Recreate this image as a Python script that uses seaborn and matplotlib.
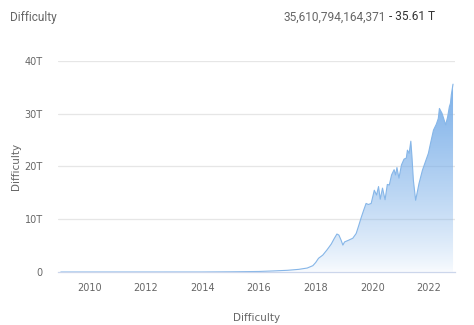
import numpy as np
import pandas as pd
import matplotlib
matplotlib.use("Agg")
import matplotlib.pyplot as plt
import seaborn as sns
from matplotlib.colors import LinearSegmentedColormap
from matplotlib.patches import Polygon

# ---- data (decimal year, difficulty in T) ----
years = [2009.0, 2012.0, 2014.0, 2015.0, 2016.0, 2016.5, 2017.0, 2017.4, 2017.7, 2017.9,
         2018.0, 2018.1, 2018.25, 2018.4, 2018.55, 2018.65, 2018.75, 2018.82, 2018.9, 2018.96,
         2019.02, 2019.15, 2019.31, 2019.43, 2019.52, 2019.6, 2019.7, 2019.78, 2019.86, 2019.96,
         2020.07, 2020.15, 2020.22, 2020.28, 2020.36, 2020.45, 2020.53, 2020.6, 2020.68, 2020.77,
         2020.82, 2020.87, 2020.94, 2021.03, 2021.12, 2021.2, 2021.24, 2021.3, 2021.36, 2021.4,
         2021.45, 2021.53, 2021.65, 2021.77, 2021.98, 2022.06, 2022.16, 2022.26, 2022.33, 2022.37,
         2022.46, 2022.52, 2022.59, 2022.66, 2022.72, 2022.76, 2022.79, 2022.85]
difficulty_T = [0.0, 0.000002, 0.002, 0.04, 0.1, 0.2, 0.32, 0.5, 0.75, 1.2,
                1.8, 2.6, 3.2, 4.2, 5.3, 6.3, 7.2, 7.0, 6.0, 5.1,
                5.7, 6.0, 6.4, 7.3, 8.8, 10.2, 11.8, 13.0, 12.8, 13.0,
                15.5, 14.6, 16.2, 13.8, 15.9, 13.7, 16.6, 16.5, 18.4, 19.4,
                18.4, 19.8, 17.8, 20.3, 21.4, 21.6, 23.1, 22.5, 24.8, 21.9,
                17.4, 13.6, 16.8, 19.3, 22.5, 24.5, 26.9, 28.0, 29.1, 31.0,
                30.1, 29.1, 27.9, 29.4, 31.3, 32.0, 33.6, 35.61]
x_ticks = [2010, 2012, 2014, 2016, 2018, 2020, 2022]
y_ticks = [0, 10, 20, 30, 40]
y_tick_labels = ["0", "10T", "20T", "30T", "40T"]
title = "Difficulty"
latest_full = "35,610,794,164,371"
latest_short = " - 35.61 T"

df = pd.DataFrame({"year": years, "difficulty": difficulty_T})

sns.set_style("white")
plt.rcParams["font.family"] = ["DejaVu Sans"]

fig = plt.figure(figsize=(4.74, 3.25), dpi=100)
ax = fig.add_axes([58/474, 1-272/325, (455-58)/474, (272-61)/325])

line_color = "#86b6e8"
xmin, xmax = 2008.9, 2022.92
ax.set_xlim(xmin, xmax)
ax.set_ylim(0, 40)

# gradient fill under the curve
base = np.array([0.47, 0.68, 0.91])
vals = np.linspace(0, 1, 256)
alpha = 0.04 + 0.92 * vals ** 0.8
rgba = np.zeros((256, 1, 4))
rgba[:, 0, :3] = base
rgba[:, 0, 3] = alpha
top = max(difficulty_T)
im = ax.imshow(rgba, aspect="auto", origin="lower",
               extent=[xmin, xmax, 0, top], zorder=1, interpolation="bilinear")
poly_pts = [(years[0], 0)] + list(zip(years, difficulty_T)) + [(years[-1], 0)]
poly = Polygon(poly_pts, closed=True, transform=ax.transData, facecolor="none", edgecolor="none")
ax.add_patch(poly)
im.set_clip_path(poly)

sns.lineplot(data=df, x="year", y="difficulty", ax=ax, color=line_color,
             linewidth=0.8, zorder=3)

# grid
for yv in y_ticks[1:]:
    ax.axhline(yv, color="#e6e6e6", linewidth=0.9, zorder=0)
for s in ["top", "right", "left"]:
    ax.spines[s].set_visible(False)
ax.spines["bottom"].set_color("#ccd6eb")
ax.spines["bottom"].set_linewidth(0.9)
ax.spines["bottom"].set_zorder(4)

ax.set_xticks(x_ticks)
ax.set_xticklabels([str(t) for t in x_ticks])
ax.set_yticks(y_ticks)
ax.set_yticklabels(y_tick_labels)
ax.tick_params(axis="x", length=4, width=0.8, color="#ccd6eb", pad=4,
               labelsize=7, labelcolor="#666666", direction="out")
ax.tick_params(axis="y", length=0, pad=11, labelsize=7, labelcolor="#666666")
ax.set_xlabel("Difficulty", fontsize=7.5, color="#666666", labelpad=14)
ax.set_ylabel("Difficulty", fontsize=7.5, color="#666666")
ax.yaxis.set_label_coords((21-58)/397, 0.5)

# header texts
fig.text(10/474, 1-17/325, title, fontsize=8.6, color="#666666", family="Roboto",
         ha="left", va="center")
t2 = fig.text(435/474, 1-17/325, latest_short, fontsize=8.6, color="#333333", family="Roboto",
              ha="right", va="center")
fig.canvas.draw()
bb = t2.get_window_extent()
fig.text(bb.x0/fig.bbox.width, 1-17/325, latest_full, fontsize=8.6, color="#666666",
         family="Roboto", ha="right", va="center")

fig.savefig("out.png", dpi=100)
